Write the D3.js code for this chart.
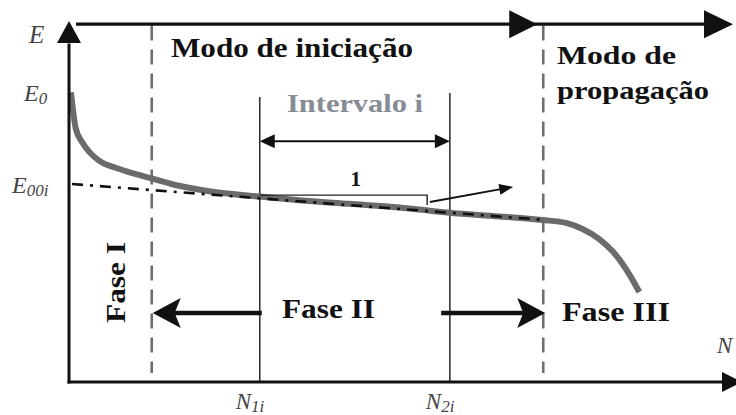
<!DOCTYPE html>
<html>
<head>
<meta charset="utf-8">
<script src="https://cdn.jsdelivr.net/npm/d3@7"></script>
<style>
  html, body { margin: 0; padding: 0; background: #fff; }
  svg { display: block; }
  .bold { font-family: "Liberation Serif", "Times New Roman", serif; font-weight: bold; fill: #111; }
  .ital { font-family: "Liberation Serif", "Times New Roman", serif; font-style: italic; fill: #444; }
</style>
</head>
<body>
<svg id="chart" width="736" height="415"></svg>
<script>
// Energy E versus number of cycles N (normalised units 0–100 on both axes)
const curveN = [0.3, 0.6, 1, 2, 3, 4.5, 7, 9.5, 12.5, 16.5, 21, 28.5, 34.5, 42, 49.5, 57, 64.5, 71, 74.5, 77, 79.5, 81.5, 83, 84.3, 85.5];
const curveE = [80.5, 75.5, 70.5, 66.5, 64, 61.5, 59.5, 58, 56.5, 54.5, 53, 51.5, 50.5, 49.5, 48.5, 47, 46, 45, 44.2, 42.5, 39.7, 36.3, 32.8, 29, 25];

// Linear fit of the stable phase (E00i intercept)
const tangentN = [0.45, 71.4];
const tangentE = [55, 45];

// Phase boundaries (dashed) and interval i bounds (solid)
const phaseBounds = [12.4, 71.1];
const intervalBounds = [28.6, 57.1];
const tickBase = ["N", "N"];
const tickSub = ["1i", "2i"];

// Reference levels on the E axis
const levelE = [80.5, 55];
const levelBase = ["E", "E"];
const levelSub = ["0", "00i"];

const svg = d3.select("#chart");
const x = d3.scaleLinear().domain([0, 100]).range([69, 736]);
const y = d3.scaleLinear().domain([0, 100]).range([382, 22]);

const black = "#111";
const dashGray = "#6e6e6e";

// filled triangular head at (x2,y2) pointing along (x1,y1)->(x2,y2)
function head(g, x1, y1, x2, y2, len, half, notch) {
  const a = Math.atan2(y2 - y1, x2 - x1);
  const c = Math.cos(a), s = Math.sin(a);
  const bx = x2 - len * c, by = y2 - len * s;
  const nx = x2 - (len - (notch || 0)) * c, ny = y2 - (len - (notch || 0)) * s;
  const p = [[x2, y2], [bx - half * s, by + half * c], [nx, ny], [bx + half * s, by - half * c]];
  g.append("path").attr("d", "M" + p.map(d => d.join(",")).join("L") + "Z").attr("fill", black);
}
function arrow(x1, y1, x2, y2, w, len, half, notch) {
  const a = Math.atan2(y2 - y1, x2 - x1);
  svg.append("line").attr("x1", x1).attr("y1", y1)
    .attr("x2", x2 - (len * 0.7) * Math.cos(a)).attr("y2", y2 - (len * 0.7) * Math.sin(a))
    .attr("stroke", black).attr("stroke-width", w);
  head(svg, x1, y1, x2, y2, len, half, notch);
}

// phase boundaries
svg.selectAll("line.phase").data(phaseBounds).join("line").attr("class", "phase")
  .attr("x1", d => x(d)).attr("x2", d => x(d))
  .attr("y1", y(99)).attr("y2", y(2.5))
  .attr("stroke", dashGray).attr("stroke-width", 2.6).attr("stroke-dasharray", "15,9");

// interval i bounds
svg.selectAll("line.bound").data(intervalBounds).join("line").attr("class", "bound")
  .attr("x1", d => x(d)).attr("x2", d => x(d))
  .attr("y1", (d, i) => i === 0 ? 97 : 93).attr("y2", y(0))
  .attr("stroke", "#333").attr("stroke-width", 1.6);

// E–N curve
const pts = curveN.map((n, i) => [x(n), y(curveE[i])]);
svg.append("path").attr("d", d3.line().curve(d3.curveMonotoneX)(pts))
  .attr("fill", "none").attr("stroke", "#6b6b6b").attr("stroke-width", 6).attr("stroke-linecap", "butt");

// tangent line (dash-dot)
svg.append("line")
  .attr("x1", x(tangentN[0])).attr("y1", y(tangentE[0]))
  .attr("x2", x(tangentN[1])).attr("y2", y(tangentE[1]))
  .attr("stroke", black).attr("stroke-width", 2.6).attr("stroke-dasharray", "11,7,3,7");

// slope triangle and pointer
const slopeTop = y(51.9), slopeEndX = x(53.7);
svg.append("path")
  .attr("d", `M${x(intervalBounds[0])},${slopeTop}H${slopeEndX}V${y(49.2)}`)
  .attr("fill", "none").attr("stroke", "#222").attr("stroke-width", 1.4);
arrow(x(54.1), y(50), x(66.6), y(54.2), 1.8, 14, 5.5, 0);
svg.append("text").attr("class", "bold").attr("x", x(43)).attr("y", 186)
  .attr("text-anchor", "middle").attr("font-size", 21).text("1");

// interval arrow
const iy = y(66.9);
svg.append("line").attr("x1", x(intervalBounds[0]) + 8).attr("x2", x(intervalBounds[1]) - 8)
  .attr("y1", iy).attr("y2", iy).attr("stroke", black).attr("stroke-width", 2);
head(svg, x(intervalBounds[1]) - 10, iy, x(intervalBounds[1]), iy, 15, 7, 0);
head(svg, x(intervalBounds[0]) + 10, iy, x(intervalBounds[0]), iy, 15, 7, 0);
svg.append("text").attr("class", "bold").attr("x", 287).attr("y", 112)
  .attr("font-size", 25).attr("textLength", 136).attr("lengthAdjust", "spacingAndGlyphs")
  .style("fill", "#878b95").text("Intervalo i");

// Fase II arrows
const fy = y(19.2);
arrow(x(intervalBounds[0]) + 2, fy, x(phaseBounds[0]) + 1, fy, 4.5, 28, 15, 6);
arrow(x(55.8), fy, x(phaseBounds[1]) + 2, fy, 4.5, 28, 15, 6);

// axes
svg.append("line").attr("x1", x(0)).attr("x2", x(0)).attr("y1", y(0) + 1.5).attr("y2", y(94))
  .attr("stroke", black).attr("stroke-width", 3);
head(svg, x(0), y(90), x(0), y(100.3), 22, 12, 0);
svg.append("line").attr("x1", x(0) - 1.5).attr("x2", 726).attr("y1", y(0)).attr("y2", y(0))
  .attr("stroke", black).attr("stroke-width", 3);
head(svg, 700, y(0), 742, y(0), 20, 10, 0);

// mode arrow along the top
const ty = y(99.4);
svg.append("line").attr("x1", 76).attr("x2", 720).attr("y1", ty).attr("y2", ty)
  .attr("stroke", black).attr("stroke-width", 3.2);
head(svg, 500, ty, x(70.2), ty, 28, 14, 0);
head(svg, 700, ty, 733, ty, 29, 14, 0);

// texts
svg.append("text").attr("class", "bold").attr("x", 171).attr("y", 57)
  .attr("font-size", 28).attr("textLength", 242).attr("lengthAdjust", "spacingAndGlyphs")
  .text("Modo de iniciação");
svg.append("text").attr("class", "bold").attr("x", 557).attr("y", 64)
  .attr("font-size", 26).attr("textLength", 119).attr("lengthAdjust", "spacingAndGlyphs")
  .text("Modo de");
svg.append("text").attr("class", "bold").attr("x", 557).attr("y", 99)
  .attr("font-size", 26).attr("textLength", 152).attr("lengthAdjust", "spacingAndGlyphs")
  .text("propagação");
svg.append("text").attr("class", "bold").attr("transform", "translate(125,323) rotate(-90)")
  .attr("font-size", 27).attr("textLength", 81).attr("lengthAdjust", "spacingAndGlyphs")
  .text("Fase I");
svg.append("text").attr("class", "bold").attr("x", 282).attr("y", 318)
  .attr("font-size", 28).attr("textLength", 93).attr("lengthAdjust", "spacingAndGlyphs")
  .text("Fase II");
svg.append("text").attr("class", "bold").attr("x", 562).attr("y", 321)
  .attr("font-size", 28).attr("textLength", 108).attr("lengthAdjust", "spacingAndGlyphs")
  .text("Fase III");

// axis names
svg.append("text").attr("class", "ital").attr("x", 29).attr("y", 43).attr("font-size", 25).text("E");
svg.append("text").attr("class", "ital").attr("x", 717).attr("y", 353).attr("font-size", 23).text("N");

// E-axis level labels
svg.selectAll("text.lvl").data(levelE).join("text").attr("class", "ital lvl")
  .attr("x", (d, i) => i === 0 ? 24 : 12).attr("y", d => y(d) + 9)
  .attr("font-size", 24)
  .each(function(d, i) {
    const t = d3.select(this);
    t.append("tspan").text(levelBase[i]);
    t.append("tspan").attr("font-size", 17).attr("dy", 3).text(levelSub[i]);
  });

// N-axis tick labels
svg.selectAll("text.tick").data(intervalBounds).join("text").attr("class", "ital tick")
  .attr("x", d => x(d) - 24).attr("y", 409)
  .attr("font-size", 23)
  .each(function(d, i) {
    const t = d3.select(this);
    t.append("tspan").text(tickBase[i]);
    t.append("tspan").attr("font-size", 17).attr("dy", 3).text(tickSub[i]);
  });
</script>
</body>
</html>
